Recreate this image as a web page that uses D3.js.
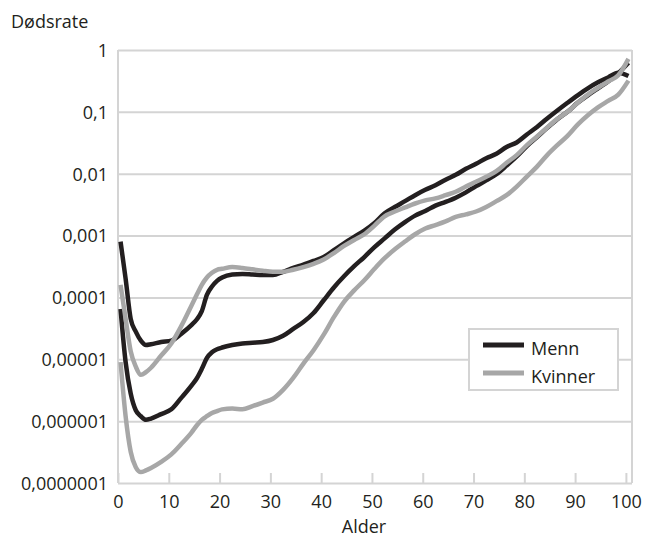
<!DOCTYPE html>
<html lang="no">
<head>
<meta charset="UTF-8">
<title>Dødsrate etter alder</title>
<script src="https://d3js.org/d3.v7.min.js"></script>
<style>
  body { margin: 0; background: #fff; }
  svg text { font-family: "Open Sans", "Noto Sans", sans-serif; fill: #231f20; }
</style>
</head>
<body>
<svg id="chart" width="649" height="540"></svg>
<script>
// ages are plotted at the middle of each one-year interval
const ages = [0.5, 1.5, 2.5, 3.5, 4.5, 5.5, 6.5, 8.5, 10.5, 12.5, 14.5, 15.5, 16.5, 17.5, 18.5, 19.5, 20.5,
  22.5, 24.5, 26.5, 28.5, 30.5, 32.5, 34.5, 36.5, 38.5, 40.5, 42.5, 44.5, 46.5, 48.5, 50.5, 52.5, 54.5,
  56.5, 58.5, 60.5, 62.5, 64.5, 66.5, 68.5, 70.5, 72.5, 74.5, 76.5, 78.5, 80.5, 82.5, 84.5, 86.5, 88.5,
  90.5, 92.5, 94.5, 96.5, 98.5, 100.5];

const mennHigh = [8e-4, 2e-4, 4.5e-5, 2.8e-5, 2.0e-5, 1.7e-5, 1.75e-5, 1.9e-5, 2.0e-5, 2.6e-5, 3.6e-5, 4.4e-5, 6e-5,
  1.1e-4, 1.5e-4, 1.85e-4, 2.1e-4, 2.35e-4, 2.4e-4, 2.35e-4, 2.3e-4, 2.3e-4, 2.6e-4, 3.0e-4, 3.4e-4, 3.9e-4,
  4.5e-4, 5.8e-4, 7.5e-4, 9.5e-4, 1.2e-3, 1.6e-3, 2.3e-3, 2.9e-3, 3.6e-3, 4.5e-3, 5.5e-3, 6.5e-3, 8e-3,
  9.6e-3, 0.012, 0.0145, 0.0178, 0.021, 0.027, 0.032, 0.043, 0.057, 0.078, 0.105, 0.14, 0.185, 0.24, 0.30,
  0.36, 0.43, 0.38];

const kvinnerHigh = [1.6e-4, 4.5e-5, 1.35e-5, 7.6e-6, 5.6e-6, 6.2e-6, 7.3e-6, 1.15e-5, 1.8e-5, 3.5e-5, 7.5e-5,
  1.1e-4, 1.6e-4, 2.1e-4, 2.5e-4, 2.8e-4, 2.9e-4, 3.1e-4, 3.0e-4, 2.85e-4, 2.7e-4, 2.6e-4, 2.6e-4, 2.8e-4,
  3.1e-4, 3.5e-4, 4.1e-4, 5.2e-4, 6.8e-4, 8.5e-4, 1.05e-3, 1.45e-3, 2.05e-3, 2.45e-3, 2.85e-3, 3.3e-3,
  3.7e-3, 4.0e-3, 4.5e-3, 5.1e-3, 6.2e-3, 7.4e-3, 8.9e-3, 0.011, 0.015, 0.020, 0.029, 0.040, 0.056, 0.077,
  0.10, 0.14, 0.19, 0.245, 0.31, 0.39, 0.72];

const mennLow = [6.5e-5, 9e-6, 2.8e-6, 1.5e-6, 1.2e-6, 1.05e-6, 1.1e-6, 1.3e-6, 1.55e-6, 2.4e-6, 3.8e-6, 4.9e-6,
  7e-6, 1.05e-5, 1.3e-5, 1.45e-5, 1.55e-5, 1.7e-5, 1.8e-5, 1.85e-5, 1.9e-5, 2.05e-5, 2.4e-5, 3.1e-5, 4.0e-5,
  5.6e-5, 9e-5, 1.45e-4, 2.2e-4, 3.2e-4, 4.5e-4, 6.5e-4, 9e-4, 1.25e-3, 1.65e-3, 2.1e-3, 2.5e-3, 3.05e-3,
  3.5e-3, 4.1e-3, 5.0e-3, 6.3e-3, 7.8e-3, 9.8e-3, 0.0135, 0.019, 0.028, 0.039, 0.055, 0.076, 0.10, 0.14,
  0.185, 0.24, 0.31, 0.42, 0.62];

const kvinnerLow = [9e-6, 1.2e-6, 3.2e-7, 1.8e-7, 1.5e-7, 1.6e-7, 1.75e-7, 2.2e-7, 2.9e-7, 4.3e-7, 6.6e-7, 8.5e-7,
  1.05e-6, 1.2e-6, 1.35e-6, 1.45e-6, 1.55e-6, 1.6e-6, 1.55e-6, 1.75e-6, 2.0e-6, 2.3e-6, 3.2e-6, 5.0e-6,
  8.5e-6, 1.4e-5, 2.5e-5, 4.8e-5, 8.5e-5, 1.3e-4, 1.9e-4, 2.9e-4, 4.3e-4, 6e-4, 8e-4, 1.05e-3, 1.3e-3,
  1.48e-3, 1.7e-3, 2.0e-3, 2.2e-3, 2.45e-3, 2.9e-3, 3.6e-3, 4.5e-3, 6.2e-3, 9e-3, 0.013, 0.02, 0.029,
  0.041, 0.062, 0.088, 0.118, 0.15, 0.19, 0.32];

const yTicks = [1e-7, 1e-6, 1e-5, 1e-4, 1e-3, 1e-2, 1e-1, 1];
const yTickLabels = ["0,0000001", "0,000001", "0,00001", "0,0001", "0,001", "0,01", "0,1", "1"];
const xTicks = [0, 10, 20, 30, 40, 50, 60, 70, 80, 90, 100];
const legendNames = ["Menn", "Kvinner"];

const black = "#231f20", gray = "#a7a7a7", gridColor = "#d4d4d4";

const svg = d3.select("#chart");
const margin = {top: 50, right: 17, bottom: 57, left: 118};
const width = 649 - margin.left - margin.right;
const height = 540 - margin.top - margin.bottom;

const g = svg.append("g").attr("transform", `translate(${margin.left},${margin.top})`);

const x = d3.scaleLinear().domain([0, 101.2]).range([0, width]);
const y = d3.scaleLog().domain([1e-7, 1]).range([height, 0]);

// horizontal grid + y labels
const yAxis = g.append("g")
  .call(d3.axisLeft(y).tickValues(yTicks).tickSize(-width)
    .tickFormat((d, i) => yTickLabels[i]).tickPadding(10));
yAxis.select(".domain").remove();
yAxis.selectAll(".tick line").attr("stroke", gridColor).attr("stroke-width", 2);
yAxis.selectAll(".tick text").style("font-size", "18px").attr("dy", "0.35em");

// x axis: ticks point up into the plot
const xAxis = g.append("g")
  .attr("transform", `translate(0,${height})`)
  .call(d3.axisBottom(x).tickValues(xTicks).tickSize(-10).tickPadding(12));
xAxis.select(".domain").remove();
xAxis.selectAll(".tick line").attr("stroke", gridColor).attr("stroke-width", 2);
xAxis.selectAll(".tick text").style("font-size", "18px");

// frame lines
g.append("line").attr("x1", 0).attr("x2", 0).attr("y1", 0).attr("y2", height)
  .attr("stroke", gridColor).attr("stroke-width", 2);
g.append("line").attr("x1", width).attr("x2", width).attr("y1", 0).attr("y2", height)
  .attr("stroke", gridColor).attr("stroke-width", 2);

const line = d3.line().x((d, i) => x(ages[i])).y(d => y(d)).curve(d3.curveMonotoneX);

const series = [
  {values: mennHigh, color: black},
  {values: mennLow, color: black},
  {values: kvinnerHigh, color: gray},
  {values: kvinnerLow, color: gray}
];

g.selectAll(".series")
  .data(series)
  .enter()
  .append("path")
    .attr("class", "series")
    .attr("d", d => line(d.values))
    .attr("fill", "none")
    .attr("stroke", d => d.color)
    .attr("stroke-width", 4.5)
    .attr("stroke-linejoin", "round");

// titles
svg.append("text").attr("x", 11).attr("y", 28).style("font-size", "18px").text("Dødsrate");
svg.append("text").attr("x", 364).attr("y", 533).attr("text-anchor", "middle")
  .style("font-size", "18px").text("Alder");

// legend
const legend = svg.append("g").attr("transform", "translate(469,329)");
legend.append("rect").attr("width", 149).attr("height", 61)
  .attr("fill", "#fff").attr("stroke", gridColor).attr("stroke-width", 2);
const items = legend.selectAll(".item")
  .data(legendNames)
  .enter()
  .append("g")
    .attr("transform", (d, i) => `translate(0,${16 + i * 28})`);
items.append("line").attr("x1", 14).attr("x2", 55)
  .attr("stroke", (d, i) => i === 0 ? black : gray).attr("stroke-width", 5);
items.append("text").attr("x", 62).attr("y", 8).attr("dy", "0.1em")
  .style("font-size", "18px").text(d => d);
</script>
</body>
</html>
